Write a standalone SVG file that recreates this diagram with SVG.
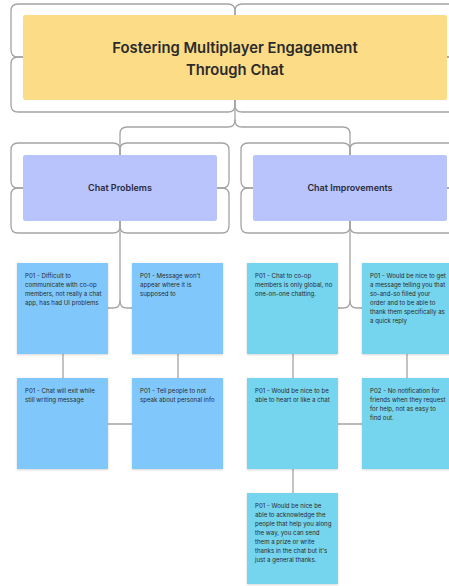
<svg xmlns="http://www.w3.org/2000/svg" width="449" height="586" viewBox="0 0 449 586">
<defs>
<style>
.c{fill:none;stroke:#a4a4a4;stroke-width:1.3;stroke-linejoin:round;stroke-linecap:round}
.title{font-family:Inter,"Liberation Sans",sans-serif;font-weight:600;font-size:14.8px;fill:#2a2a2a;text-anchor:middle}
.sub{font-family:Inter,"Liberation Sans",sans-serif;font-weight:600;font-size:9px;fill:#2a2a3a;text-anchor:middle}
.t{font-family:Inter,"Liberation Sans",sans-serif;font-size:6.1px;fill:#2a2a2a}
.sp{fill:#80c8fb}
.si{fill:#74d4ee}
</style>
<filter id="sh" x="-10%" y="-10%" width="120%" height="120%">
<feDropShadow dx="0" dy="0.8" stdDeviation="0.8" flood-color="#000" flood-opacity="0.18"/>
</filter>
</defs>
<rect width="449" height="586" fill="#ffffff"/>
<g id="connectors">
<path class="c" d="M235,15 L235,11 Q235,4 228,4 L18,4 Q11,4 11,11 L11,50 Q11,57 18,57 L23,57"/>
<path class="c" d="M23,57 L18,57 Q11,57 11,64 L11,105 Q11,112 18,112 L228,112 Q235,112 235,105 L235,100"/>
<path class="c" d="M235,15 L235,11 Q235,4 242,4 L452,4 Q459,4 459,11 L459,50 Q459,57 452,57 L447,57"/>
<path class="c" d="M447,57 L452,57 Q459,57 459,64 L459,105 Q459,112 452,112 L242,112 Q235,112 235,105 L235,100"/>
<path class="c" d="M235,100 L235,120 Q235,127 228,127 L127,127 Q120,127 120,134 L120,155"/>
<path class="c" d="M235,120 Q235,127 242,127 L343,127 Q350,127 350,134 L350,155"/>
<path class="c" d="M120,155 L120,150 Q120,143 113,143 L18,143 Q11,143 11,150 L11,181 Q11,188 18,188 L23,188"/>
<path class="c" d="M23,188 L18,188 Q11,188 11,195 L11,226 Q11,233 18,233 L113,233 Q120,233 120,226 L120,221"/>
<path class="c" d="M120,155 L120,150 Q120,143 127,143 L222,143 Q229,143 229,150 L229,181 Q229,188 222,188 L217,188"/>
<path class="c" d="M217,188 L222,188 Q229,188 229,195 L229,226 Q229,233 222,233 L127,233 Q120,233 120,226 L120,221"/>
<path class="c" d="M350,155 L350,150 Q350,143 343,143 L248,143 Q241,143 241,150 L241,181 Q241,188 248,188 L253,188"/>
<path class="c" d="M253,188 L248,188 Q241,188 241,195 L241,226 Q241,233 248,233 L343,233 Q350,233 350,226 L350,221"/>
<path class="c" d="M350,155 L350,150 Q350,143 357,143 L452,143 Q459,143 459,150 L459,181 Q459,188 452,188 L447,188"/>
<path class="c" d="M447,188 L452,188 Q459,188 459,195 L459,226 Q459,233 452,233 L357,233 Q350,233 350,226 L350,221"/>
<path class="c" d="M120,221 L120,301 Q120,308 113,308 L108,308"/>
<path class="c" d="M120,301 Q120,308 127,308 L132,308"/>
<path class="c" d="M350,221 L350,301 Q350,308 343,308 L338,308"/>
<path class="c" d="M350,301 Q350,308 357,308 L362,308"/>
<path class="c" d="M63,354 L63,378"/>
<path class="c" d="M178,354 L178,378"/>
<path class="c" d="M108,424 L132,424"/>
<path class="c" d="M293,354 L293,378"/>
<path class="c" d="M407,354 L407,378"/>
<path class="c" d="M338,424 L362,424"/>
<path class="c" d="M293,469 L293,493"/>
</g>
<g id="title">
<rect x="23" y="15" width="424" height="85" rx="2.5" fill="#fcdc87"/>
<text class="title" x="235" y="52.5">Fostering Multiplayer Engagement</text>
<text class="title" x="235" y="75">Through Chat</text>
</g>
<g id="chat-problems">
<rect x="23" y="155" width="194" height="66" rx="2.5" fill="#b8c4fb"/>
<text class="sub" x="120" y="191">Chat Problems</text>
</g>
<g id="chat-improvements">
<rect x="253" y="155" width="194" height="66" rx="2.5" fill="#b8c4fb"/>
<text class="sub" x="350" y="191">Chat Improvements</text>
</g>
<g id="p1">
<rect class="sp" x="17" y="263" width="91" height="91" filter="url(#sh)"/>
<text class="t" x="25" y="277.5">P01 - Difficult to<tspan x="25" dy="9.1">communicate with co-op</tspan><tspan x="25" dy="9.1">members, not really a chat</tspan><tspan x="25" dy="9.1">app, has had UI problems</tspan></text>
</g>
<g id="p2">
<rect class="sp" x="132" y="263" width="91" height="91" filter="url(#sh)"/>
<text class="t" x="140" y="277.5">P01 - Message won't<tspan x="140" dy="9.1">appear where it is</tspan><tspan x="140" dy="9.1">supposed to</tspan></text>
</g>
<g id="p3">
<rect class="sp" x="17" y="378" width="91" height="91" filter="url(#sh)"/>
<text class="t" x="25" y="392.5">P01 - Chat will exit while<tspan x="25" dy="9.1">still writing message</tspan></text>
</g>
<g id="p4">
<rect class="sp" x="132" y="378" width="91" height="91" filter="url(#sh)"/>
<text class="t" x="140" y="392.5">P01 - Tell people to not<tspan x="140" dy="9.1">speak about personal info</tspan></text>
</g>
<g id="i1">
<rect class="si" x="247" y="263" width="91" height="91" filter="url(#sh)"/>
<text class="t" x="255" y="277.5">P01 - Chat to co-op<tspan x="255" dy="9.1">members is only global, no</tspan><tspan x="255" dy="9.1">one-on-one chatting.</tspan></text>
</g>
<g id="i2">
<rect class="si" x="362" y="263" width="91" height="91" filter="url(#sh)"/>
<text class="t" x="370" y="277.5">P01 - Would be nice to get<tspan x="370" dy="9.1">a message telling you that</tspan><tspan x="370" dy="9.1">so-and-so filled your</tspan><tspan x="370" dy="9.1">order and to be able to</tspan><tspan x="370" dy="9.1">thank them specifically as</tspan><tspan x="370" dy="9.1">a quick reply</tspan></text>
</g>
<g id="i3">
<rect class="si" x="247" y="378" width="91" height="91" filter="url(#sh)"/>
<text class="t" x="255" y="392.5">P01 - Would be nice to be<tspan x="255" dy="9.1">able to heart or like a chat</tspan></text>
</g>
<g id="i4">
<rect class="si" x="362" y="378" width="91" height="91" filter="url(#sh)"/>
<text class="t" x="370" y="392.5">P02 - No notification for<tspan x="370" dy="9.1">friends when they request</tspan><tspan x="370" dy="9.1">for help, not as easy to</tspan><tspan x="370" dy="9.1">find out.</tspan></text>
</g>
<g id="i5">
<rect class="si" x="247" y="493" width="91" height="91" filter="url(#sh)"/>
<text class="t" x="255" y="507.5">P01 - Would be nice be<tspan x="255" dy="9.1">able to acknowledge the</tspan><tspan x="255" dy="9.1">people that help you along</tspan><tspan x="255" dy="9.1">the way, you can send</tspan><tspan x="255" dy="9.1">them a prize or write</tspan><tspan x="255" dy="9.1">thanks in the chat but it's</tspan><tspan x="255" dy="9.1">just a general thanks.</tspan></text>
</g>
</svg>
